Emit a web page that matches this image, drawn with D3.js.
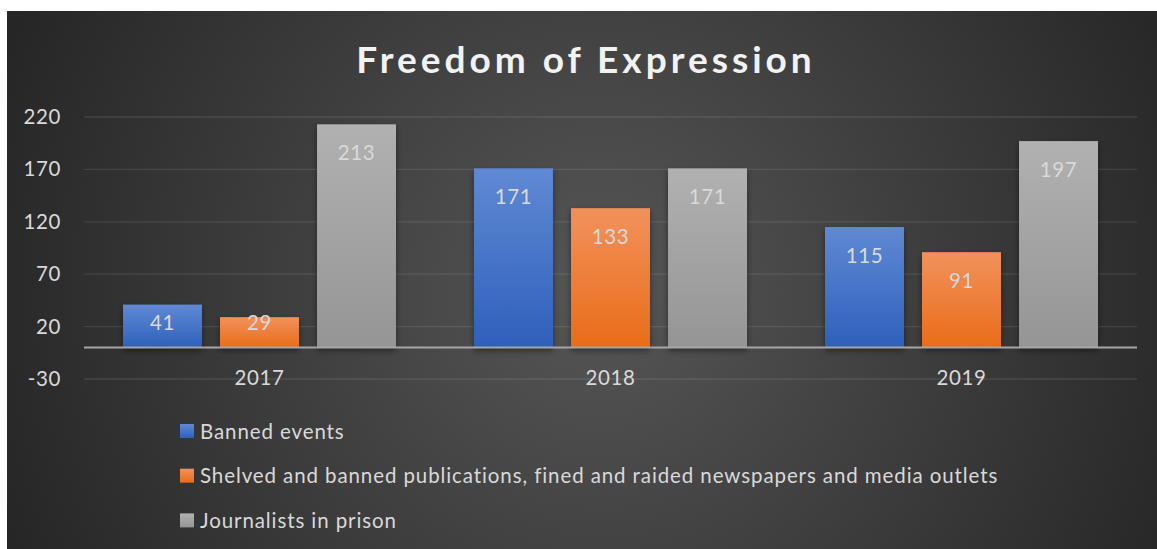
<!DOCTYPE html>
<html>
<head>
<meta charset="utf-8">
<script src="https://cdn.jsdelivr.net/npm/d3@7"></script>
<style>
  body { margin: 0; background: #ffffff; }
  svg { display: block; }
  text { font-family: Lato, 'Noto Sans', sans-serif; }
</style>
</head>
<body>
<svg id="chart" width="1157" height="549"></svg>
<script>
const years = ['2017', '2018', '2019'];
const seriesNames = [
  'Banned events',
  'Shelved and banned publications, fined and raided newspapers and media outlets',
  'Journalists in prison'
];
const bannedEvents = [41, 171, 115];
const publications = [29, 133, 91];
const journalists = [213, 171, 197];
const yTicks = [-30, 20, 70, 120, 170, 220];

const seriesValues = [bannedEvents, publications, journalists];

const FILLS = [
  { top: '#6089d4', bottom: '#2e60bb' },
  { top: '#f2915c', bottom: '#e96c18' },
  { top: '#b1b1b1', bottom: '#959595' }
];

const PLOT = { left: 84, right: 1137, top: 117, bottom: 379 };
const FONT_SIZE = 20.5;

const svg = d3.select('#chart');
const defs = svg.append('defs');

const bg = defs.append('radialGradient')
  .attr('id', 'bg')
  .attr('gradientUnits', 'userSpaceOnUse')
  .attr('cx', 600).attr('cy', 290).attr('r', 640);
bg.append('stop').attr('offset', '0%').attr('stop-color', '#565656');
bg.append('stop').attr('offset', '100%').attr('stop-color', '#262626');

FILLS.forEach((f, i) => {
  const g = defs.append('linearGradient')
    .attr('id', 'fill' + i)
    .attr('x1', 0).attr('y1', 0).attr('x2', 0).attr('y2', 1);
  g.append('stop').attr('offset', '0%').attr('stop-color', f.top);
  g.append('stop').attr('offset', '100%').attr('stop-color', f.bottom);
});

const shadow = defs.append('filter')
  .attr('id', 'shadow')
  .attr('x', '-20%').attr('y', '-20%').attr('width', '140%').attr('height', '140%');
shadow.append('feDropShadow')
  .attr('dx', 0).attr('dy', 3).attr('stdDeviation', 3)
  .attr('flood-color', '#000').attr('flood-opacity', 0.45);

svg.append('rect')
  .attr('x', 7).attr('y', 11)
  .attr('width', 1150).attr('height', 538)
  .attr('fill', 'url(#bg)');

svg.append('text')
  .attr('x', 586).attr('y', 73)
  .attr('text-anchor', 'middle')
  .attr('fill', '#f2f2f2')
  .attr('font-size', 37)
  .attr('font-weight', 'bold')
  .attr('letter-spacing', 4)
  .text('Freedom of Expression');

const scaleY = d3.scaleLinear()
  .domain([-30, 220])
  .range([PLOT.bottom, PLOT.top]);

const scaleX = d3.scaleBand()
  .domain(years)
  .range([PLOT.left, PLOT.right]);

const scaleSeries = d3.scaleBand()
  .domain(d3.range(3))
  .range([39, scaleX.bandwidth() - 39])
  .paddingInner(0.186);

// gridlines
svg.append('g')
  .attr('class', 'grid')
  .selectAll('line')
  .data(yTicks)
  .enter()
  .append('line')
  .attr('x1', PLOT.left)
  .attr('x2', PLOT.right)
  .attr('y1', d => scaleY(d))
  .attr('y2', d => scaleY(d))
  .attr('stroke', '#ffffff')
  .attr('stroke-opacity', 0.1)
  .attr('stroke-width', 1.3);

// y axis labels
const axisY = d3.axisLeft(scaleY)
  .tickValues(yTicks)
  .tickFormat(d => String(d))
  .tickSize(0)
  .tickPadding(0);

svg.append('g')
  .attr('class', 'axis-y')
  .attr('transform', 'translate(61,0)')
  .call(axisY)
  .call(g => g.select('.domain').remove())
  .selectAll('text')
  .attr('fill', '#d9d9d9')
  .attr('font-size', FONT_SIZE)
  .attr('letter-spacing', 0.6)
  .attr('font-family', 'Lato, sans-serif');

// bars
const rows = [];
years.forEach((y, i) => {
  seriesValues.forEach((vals, s) => rows.push({ year: y, s: s, value: vals[i] }));
});

const bars = svg.append('g').attr('class', 'bars');

bars.selectAll('rect')
  .data(rows)
  .enter()
  .append('rect')
  .attr('x', d => scaleX(d.year) + scaleSeries(d.s))
  .attr('width', scaleSeries.bandwidth())
  .attr('y', d => scaleY(d.value))
  .attr('height', d => scaleY(0) - scaleY(d.value))
  .attr('fill', d => 'url(#fill' + d.s + ')')
  .attr('filter', 'url(#shadow)');

// labels sit near the bar top, but never lower than the baseline allows
bars.selectAll('text')
  .data(rows)
  .enter()
  .append('text')
  .attr('x', d => scaleX(d.year) + scaleSeries(d.s) + scaleSeries.bandwidth() / 2)
  .attr('y', d => Math.min(scaleY(d.value) + 28, scaleY(0) - 25) + 7.5)
  .attr('text-anchor', 'middle')
  .attr('fill', '#d9d9d9')
  .attr('font-size', FONT_SIZE)
  .attr('letter-spacing', 0.6)
  .text(d => d.value);

// zero baseline
svg.append('line')
  .attr('x1', PLOT.left)
  .attr('x2', PLOT.right)
  .attr('y1', scaleY(0))
  .attr('y2', scaleY(0))
  .attr('stroke', '#a6a6a6')
  .attr('stroke-width', 2);

// x axis labels
const axisX = d3.axisBottom(scaleX)
  .tickSize(0)
  .tickPadding(0);

svg.append('g')
  .attr('class', 'axis-x')
  .attr('transform', 'translate(0,' + 370 + ')')
  .call(axisX)
  .call(g => g.select('.domain').remove())
  .selectAll('text')
  .attr('fill', '#d9d9d9')
  .attr('font-size', FONT_SIZE)
  .attr('letter-spacing', 0.6)
  .attr('font-family', 'Lato, sans-serif');

// legend
const legend = svg.append('g')
  .attr('class', 'legend')
  .selectAll('g')
  .data(seriesNames)
  .enter()
  .append('g')
  .attr('transform', (d, i) => 'translate(180,' + (424 + i * 44.7) + ')');

legend.append('rect')
  .attr('width', 14)
  .attr('height', 14)
  .attr('fill', (d, i) => 'url(#fill' + i + ')');

legend.append('text')
  .attr('x', 20)
  .attr('y', 14.5)
  .attr('fill', '#d9d9d9')
  .attr('font-size', FONT_SIZE)
  .attr('letter-spacing', 0.9)
  .text(d => d);
</script>
</body>
</html>
